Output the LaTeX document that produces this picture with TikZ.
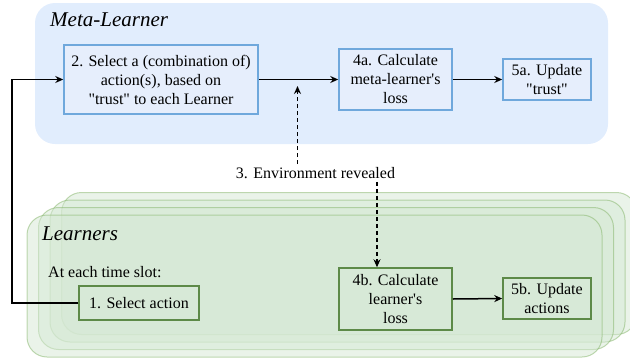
\documentclass[tikz,border=0pt]{standalone}
\usepackage{fontspec}
\setmainfont{Liberation Serif}[Ligatures=TeXOff]
\usetikzlibrary{arrows.meta}
\definecolor{metafill}{HTML}{DAE8FC}
\definecolor{metabox}{HTML}{E6EEFC}
\definecolor{metaedge}{HTML}{6FA8DC}
\definecolor{learnfill}{HTML}{D5E8D4}
\definecolor{learnedge}{HTML}{82B366}
\definecolor{learnbox}{HTML}{5D8A48}
\tikzset{
  panel/.style={rounded corners=20pt},
  layer/.style={rounded corners=20pt, fill=learnfill, draw=learnedge, line width=1pt,
    fill opacity=0.5, draw opacity=0.5},
  txt/.style={font=\fontsize{16}{19}\selectfont, align=center, inner sep=0pt},
  title/.style={font=\fontsize{21}{24}\selectfont\itshape, anchor=west, inner sep=0pt},
  metastep/.style={txt, draw=metaedge, fill=metabox, line width=1.5pt},
  learnstep/.style={txt, draw=learnbox, line width=1.5pt},
  arr/.style={line width=1.5pt, -{Stealth[length=8pt,width=7pt]}},
  dasharr/.style={arr, dash pattern=on 4pt off 3pt},
}
\begin{document}
\begin{tikzpicture}[x=1pt, y=-1pt]
\useasboundingbox (0,0) rectangle (630,360);
\clip (0,0) rectangle (630,360);

% Meta-learner panel
\fill[panel, metafill, opacity=0.8] (35,3) rectangle (608,144);
\node[title] (mtitle) at (50,20) {Meta-Learner};

% Stack of learner panels, back to front
\foreach \k in {3,2,1,0} {
  \draw[layer] ({27+11.5*\k},{215-7.5*\k}) rectangle ++(575,142);
}
\node[title] (ltitle) at (42,234) {Learners};
\node[txt, anchor=west] (slot) at (48,272) {At each time slot:};

% Steps
\node[metastep, minimum width=194pt, minimum height=69pt] (b2) at (161,79.5)
  {2. Select a (combination of)\\action(s), based on\\"trust" to each Learner};
\node[metastep, minimum width=113pt, minimum height=61pt] (b4a) at (395.5,79.5)
  {4a. Calculate\\meta-learner's\\loss};
\node[metastep, minimum width=88pt, minimum height=41pt] (b5a) at (547,79.5)
  {5a. Update\\"trust"};
\node[learnstep, minimum width=120pt, minimum height=34pt] (b1) at (139,303)
  {1. Select action};
\node[learnstep, minimum width=113pt, minimum height=62pt] (b4b) at (395.5,299)
  {4b. Calculate\\learner's\\loss};
\node[learnstep, minimum width=88pt, minimum height=41pt] (b5b) at (547,298.5)
  {5b. Update\\actions};
\node[txt, fill=white, inner sep=3pt] (env) at (315.5,173) {3. Environment revealed};

% Connectors
\coordinate (loopx) at (12,0);
\coordinate (upend) at (297.5,86);
\coordinate (downx) at (377,0);
\draw[arr] (b1.west) -- (b1.west -| loopx) |- (b2.west);
\draw[arr] (b2.east) -- (b4a.west);
\draw[arr] (b4a.east) -- (b5a.west);
\draw[arr] (b4b.east) -- (b5b.west);
\draw[dasharr] (env.north -| upend) -- (upend);
\draw[dasharr] (env.south -| downx) -- (b4b.north -| downx);
\end{tikzpicture}
\end{document}
